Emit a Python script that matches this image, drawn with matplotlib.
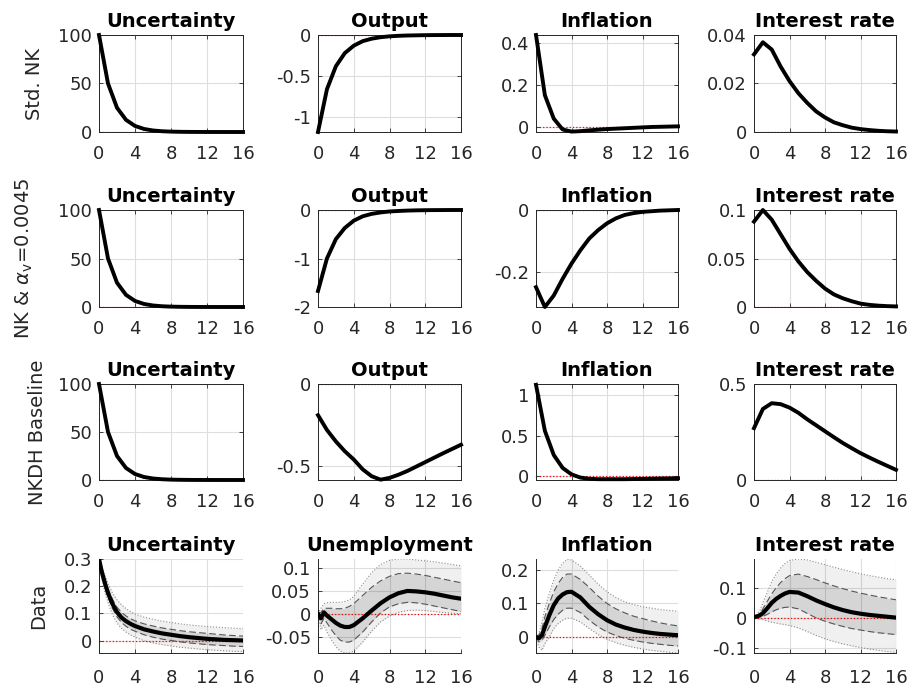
import matplotlib
matplotlib.use("Agg")
import matplotlib.pyplot as plt
import numpy as np
from matplotlib.ticker import FuncFormatter

plt.rcParams['font.family'] = ['DejaVu Sans']
plt.rcParams['axes.unicode_minus'] = False
plt.rcParams['mathtext.fontset'] = 'dejavusans'

# ---------------- data ----------------
row_labels = ["Std. NK", "NK & $\\alpha_{\\mathrm{v}}$=0.0045", "NKDH Baseline", "Data"]
titles_model = ["Uncertainty", "Output", "Inflation", "Interest rate"]
titles_data = ["Uncertainty", "Unemployment", "Inflation", "Interest rate"]

x_model = [0, 1, 2, 3, 4, 5, 6, 7, 8, 9, 10, 11, 12, 13, 14, 15, 16]

unc_std = [100, 50, 25, 12.5, 6.25, 3.13, 1.56, 0.78, 0.39, 0.2, 0.1, 0.05, 0.02, 0.01, 0.005, 0.002, 0.001]
out_std = [-1.18, -0.66, -0.38, -0.22, -0.13, -0.075, -0.045, -0.027, -0.016, -0.01, -0.006, -0.004, -0.002, -0.001, -0.0005, 0, 0]
infl_std = [0.44, 0.152, 0.04, -0.012, -0.022, -0.02, -0.016, -0.013, -0.01, -0.008, -0.006, -0.004, -0.002, 0.0, 0.001, 0.002, 0.003]
int_std = [0.032, 0.037, 0.034, 0.027, 0.021, 0.016, 0.012, 0.0085, 0.006, 0.004, 0.0028, 0.0018, 0.0012, 0.0008, 0.0005, 0.0003, 0.0002]

unc_alpha = [100, 50, 25, 12.5, 6.25, 3.13, 1.56, 0.78, 0.39, 0.2, 0.1, 0.05, 0.02, 0.01, 0.005, 0.002, 0.001]
out_alpha = [-1.67, -1.0, -0.6, -0.37, -0.22, -0.13, -0.08, -0.05, -0.03, -0.02, -0.012, -0.007, -0.004, -0.002, -0.001, 0, 0]
infl_alpha = [-0.249, -0.313, -0.276, -0.222, -0.173, -0.13, -0.092, -0.065, -0.043, -0.027, -0.016, -0.01, -0.006, -0.004, -0.002, -0.001, 0.0]
int_alpha = [0.088, 0.1, 0.09, 0.075, 0.06, 0.047, 0.036, 0.027, 0.019, 0.013, 0.009, 0.006, 0.0035, 0.0022, 0.0014, 0.0009, 0.0006]

unc_nkdh = [100, 50, 25, 12.5, 6.25, 3.13, 1.56, 0.78, 0.39, 0.2, 0.1, 0.05, 0.02, 0.01, 0.005, 0.002, 0.001]
out_nkdh = [-0.19, -0.28, -0.35, -0.41, -0.46, -0.52, -0.562, -0.583, -0.572, -0.553, -0.53, -0.503, -0.476, -0.449, -0.422, -0.396, -0.37]
infl_nkdh = [1.13, 0.56, 0.26, 0.1, 0.02, -0.02, -0.035, -0.04, -0.04, -0.04, -0.04, -0.038, -0.036, -0.034, -0.032, -0.03, -0.028]
int_nkdh = [0.27, 0.37, 0.40, 0.395, 0.377, 0.35, 0.316, 0.285, 0.254, 0.223, 0.193, 0.166, 0.14, 0.117, 0.095, 0.074, 0.053]

x_data = [0, 0.33, 0.67, 1, 1.5, 2, 2.5, 3, 3.5, 4, 5, 6, 7, 8, 9, 10, 11, 12, 13, 14, 15, 16]

unc_med = [0.3, 0.25, 0.21, 0.175, 0.135, 0.105, 0.085, 0.072, 0.062, 0.054, 0.042, 0.034, 0.027, 0.022, 0.017, 0.013, 0.01, 0.007, 0.005, 0.003, 0.002, 0.001]
unc_in_hi = [0.3, 0.26, 0.225, 0.19, 0.152, 0.123, 0.104, 0.091, 0.081, 0.073, 0.062, 0.054, 0.047, 0.042, 0.037, 0.033, 0.03, 0.027, 0.024, 0.021, 0.019, 0.017]
unc_in_lo = [0.3, 0.24, 0.195, 0.16, 0.118, 0.088, 0.067, 0.053, 0.042, 0.035, 0.022, 0.013, 0.006, 0.001, -0.004, -0.008, -0.011, -0.014, -0.016, -0.018, -0.02, -0.021]
unc_out_hi = [0.3, 0.27, 0.24, 0.21, 0.175, 0.15, 0.132, 0.118, 0.107, 0.098, 0.087, 0.079, 0.072, 0.067, 0.062, 0.058, 0.055, 0.052, 0.05, 0.048, 0.046, 0.044]
unc_out_lo = [0.3, 0.225, 0.175, 0.14, 0.095, 0.065, 0.045, 0.032, 0.021, 0.013, 0.0, -0.008, -0.014, -0.019, -0.024, -0.027, -0.03, -0.033, -0.035, -0.037, -0.039, -0.04]

unemp_med = [0.0, -0.01, 0.003, -0.004, -0.012, -0.02, -0.026, -0.029, -0.029, -0.025, -0.01, 0.007, 0.023, 0.036, 0.045, 0.05, 0.049, 0.047, 0.044, 0.04, 0.036, 0.033]
unemp_in_hi = [0.0, 0.003, 0.012, 0.012, 0.012, 0.011, 0.011, 0.012, 0.016, 0.022, 0.04, 0.058, 0.072, 0.082, 0.088, 0.089, 0.087, 0.084, 0.08, 0.076, 0.072, 0.068]
unemp_in_lo = [0.0, -0.022, -0.01, -0.02, -0.035, -0.048, -0.058, -0.062, -0.062, -0.058, -0.04, -0.018, 0.002, 0.015, 0.022, 0.025, 0.024, 0.021, 0.017, 0.013, 0.009, 0.005]
unemp_out_hi = [0.0, 0.012, 0.022, 0.024, 0.025, 0.025, 0.025, 0.027, 0.03, 0.038, 0.065, 0.09, 0.108, 0.117, 0.12, 0.12, 0.118, 0.116, 0.114, 0.111, 0.108, 0.105]
unemp_out_lo = [0.0, -0.035, -0.025, -0.04, -0.057, -0.072, -0.082, -0.086, -0.086, -0.082, -0.062, -0.038, -0.018, -0.005, 0.003, 0.007, 0.008, 0.007, 0.005, 0.003, 0.001, 0.0]

inf_med = [0.0, -0.004, 0.005, 0.03, 0.065, 0.095, 0.115, 0.127, 0.134, 0.135, 0.118, 0.09, 0.068, 0.05, 0.037, 0.028, 0.021, 0.016, 0.012, 0.009, 0.007, 0.005]
inf_in_hi = [0.0, 0.005, 0.025, 0.06, 0.1, 0.135, 0.16, 0.178, 0.188, 0.188, 0.172, 0.148, 0.122, 0.1, 0.084, 0.072, 0.062, 0.055, 0.048, 0.042, 0.037, 0.033]
inf_in_lo = [0.0, -0.015, -0.01, 0.005, 0.03, 0.052, 0.068, 0.08, 0.086, 0.086, 0.073, 0.05, 0.03, 0.015, 0.004, -0.004, -0.01, -0.015, -0.019, -0.022, -0.025, -0.027]
inf_out_hi = [0.0, 0.01, 0.045, 0.085, 0.13, 0.17, 0.2, 0.22, 0.232, 0.23, 0.212, 0.185, 0.158, 0.135, 0.118, 0.105, 0.097, 0.09, 0.086, 0.082, 0.079, 0.077]
inf_out_lo = [-0.005, -0.03, -0.04, -0.02, 0.0, 0.025, 0.04, 0.05, 0.056, 0.056, 0.045, 0.025, 0.007, -0.007, -0.017, -0.025, -0.031, -0.036, -0.04, -0.043, -0.046, -0.048]

ir_med = [0.003, 0.005, 0.009, 0.016, 0.032, 0.05, 0.063, 0.073, 0.081, 0.086, 0.084, 0.072, 0.058, 0.046, 0.035, 0.026, 0.019, 0.014, 0.01, 0.007, 0.004, 0.001]
ir_in_hi = [0.003, 0.008, 0.015, 0.03, 0.055, 0.08, 0.1, 0.117, 0.13, 0.14, 0.145, 0.137, 0.127, 0.116, 0.106, 0.097, 0.089, 0.082, 0.076, 0.07, 0.065, 0.06]
ir_in_lo = [0.003, 0.002, 0.003, 0.005, 0.012, 0.02, 0.027, 0.032, 0.035, 0.036, 0.03, 0.015, 0.0, -0.011, -0.02, -0.028, -0.035, -0.04, -0.045, -0.049, -0.052, -0.055]
ir_out_hi = [0.003, 0.012, 0.025, 0.05, 0.085, 0.12, 0.145, 0.165, 0.18, 0.19, 0.195, 0.192, 0.184, 0.176, 0.168, 0.16, 0.153, 0.146, 0.14, 0.135, 0.13, 0.126]
ir_out_lo = [0.003, -0.002, -0.004, -0.006, -0.01, -0.014, -0.017, -0.02, -0.022, -0.025, -0.033, -0.045, -0.058, -0.069, -0.078, -0.086, -0.092, -0.098, -0.103, -0.107, -0.111, -0.114]

model_rows = [
    [unc_std, out_std, infl_std, int_std],
    [unc_alpha, out_alpha, infl_alpha, int_alpha],
    [unc_nkdh, out_nkdh, infl_nkdh, int_nkdh],
]
data_row = [
    (unc_med, unc_in_lo, unc_in_hi, unc_out_lo, unc_out_hi),
    (unemp_med, unemp_in_lo, unemp_in_hi, unemp_out_lo, unemp_out_hi),
    (inf_med, inf_in_lo, inf_in_hi, inf_out_lo, inf_out_hi),
    (ir_med, ir_in_lo, ir_in_hi, ir_out_lo, ir_out_hi),
]

ylims = [
    [(0, 100), (-1.18, 0), (-0.024, 0.44), (0, 0.04)],
    [(0, 100), (-2, 0), (-0.313, 0), (0, 0.1)],
    [(0, 100), (-0.585, 0), (-0.05, 1.14), (0, 0.5)],
    [(-0.045, 0.3), (-0.086, 0.12), (-0.048, 0.233), (-0.116, 0.195)],
]
yticks = [
    [[0, 50, 100], [-1, -0.5, 0], [0, 0.2, 0.4], [0, 0.02, 0.04]],
    [[0, 50, 100], [-2, -1, 0], [-0.2, 0], [0, 0.05, 0.1]],
    [[0, 50, 100], [-0.5, 0], [0, 0.5, 1], [0, 0.5]],
    [[0, 0.1, 0.2, 0.3], [-0.05, 0, 0.05, 0.1], [0, 0.1, 0.2], [-0.1, 0, 0.1]],
]
xticks = [0, 4, 8, 12, 16]

# ---------------- layout ----------------
W, H = 914, 695
col_px = [(99, 243), (318, 461), (536, 678), (754, 896)]
row_px = [(35, 132), (210, 307), (384, 480), (559, 653)]
ylabel_x = [-0.382, -0.446, -0.361, -0.351]

fig = plt.figure(figsize=(W / 100, H / 100), dpi=100)
axc = '#262626'
fmt = FuncFormatter(lambda v, p: ('%g' % v))

for r in range(4):
    for c in range(4):
        x0, x1 = col_px[c]
        y0, y1 = row_px[r]
        ax = fig.add_axes([x0 / W, 1 - y1 / H, (x1 - x0) / W, (y1 - y0) / H])
        ax.grid(True, color='#dedede', linewidth=0.8)
        ax.set_axisbelow(True)
        ax.axhline(0, color='red', linestyle=':', linewidth=0.9, zorder=2)
        if r < 3:
            ax.plot(x_model, model_rows[r][c], color='black', linewidth=2.8,
                    zorder=3, clip_on=False, solid_joinstyle='round')
            ax.set_title(titles_model[c], fontsize=14, fontweight='bold', pad=6)
            ax.tick_params(top=True, right=True)
            xpad = 9.5
        else:
            med, ilo, ihi, olo, ohi = data_row[c]
            ax.fill_between(x_data, olo, ohi, color='black', alpha=0.06, linewidth=0, zorder=1)
            ax.fill_between(x_data, ilo, ihi, color='black', alpha=0.11, linewidth=0, zorder=1)
            ax.plot(x_data, ohi, color='#8a8a8a', linestyle=':', linewidth=0.8, zorder=1.5)
            ax.plot(x_data, olo, color='#8a8a8a', linestyle=':', linewidth=0.8, zorder=1.5)
            ax.plot(x_data, ihi, color='#555555', linestyle=(0, (6, 3)), linewidth=0.8, zorder=1.5)
            ax.plot(x_data, ilo, color='#555555', linestyle=(0, (6, 3)), linewidth=0.8, zorder=1.5)
            ax.plot(x_data, med, color='black', linewidth=3, zorder=3, solid_joinstyle='round')
            ax.set_title(titles_data[c], fontsize=14, fontweight='bold', pad=6)
            ax.spines['top'].set_visible(False)
            ax.spines['right'].set_visible(False)
            xpad = 11.5
        ax.set_xlim(0, 16)
        ax.set_ylim(*ylims[r][c])
        ax.set_xticks(xticks)
        ax.set_yticks(yticks[r][c])
        ax.yaxis.set_major_formatter(fmt)
        for s in ax.spines.values():
            s.set_color(axc)
            s.set_linewidth(0.7)
        ax.tick_params(direction='in', length=3, width=0.6, colors=axc,
                       labelsize=13, labelcolor=axc)
        ax.tick_params(axis='x', pad=xpad)
        ax.tick_params(axis='y', pad=5)
        if c == 0:
            ax.set_ylabel(row_labels[r], fontsize=14, color=axc)
            ax.yaxis.set_label_coords(ylabel_x[r], 0.5)

fig.savefig('out.png', dpi=100)
